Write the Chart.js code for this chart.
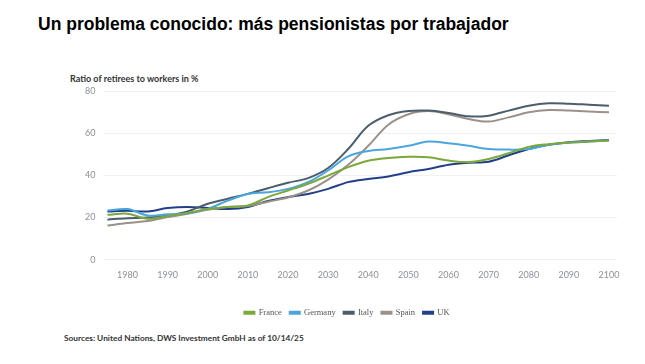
<!DOCTYPE html>
<html>
<head>
<meta charset="utf-8">
<script src="https://cdn.jsdelivr.net/npm/chart.js@4/dist/chart.umd.min.js"></script>
<style>
  body { margin: 0; background: #fff; width: 645px; height: 364px; overflow: hidden; position: relative; }
  #heading { position: absolute; left: 38px; top: 14px; font: bold 17.5px "Liberation Sans", Arial, sans-serif; color: #000; }
  #ylabel { position: absolute; left: 70px; top: 73px; font: bold 9px Lato, "Open Sans", sans-serif; color: #333; }
  #source { position: absolute; left: 64px; top: 333px; font: bold 8.3px Lato, "Open Sans", sans-serif; color: #333; }
  #wrap { position: absolute; left: 0; top: 0; width: 645px; height: 364px; }
</style>
</head>
<body>
<div id="heading">Un problema conocido: más pensionistas por trabajador</div>
<div id="ylabel">Ratio of retirees to workers in %</div>
<div id="source">Sources: United Nations, DWS Investment GmbH as of 10/14/25</div>
<div id="wrap"><canvas id="chart"></canvas></div>
<script>
console.log("pension chart");

// años (cada 5)
var years = [1975, 1980, 1985, 1990, 1995, 2000, 2005, 2010, 2015, 2020, 2025, 2030, 2035,
             2040, 2045, 2050, 2055, 2060, 2065, 2070, 2075, 2080, 2085, 2090, 2095, 2100];

var seriesNames = ["France", "Germany", "Italy", "Spain", "UK"];

var france  = [21.3, 21.8, 19.4, 20.7, 22.2, 24.0, 25.0, 25.7, 29.7, 32.8, 36.0, 39.9, 43.9,
               46.9, 48.2, 48.8, 48.6, 47.0, 46.3, 47.8, 50.5, 53.5, 54.8, 55.6, 56.0, 56.5];
var germany = [23.3, 24.0, 21.0, 21.5, 22.0, 24.1, 28.0, 31.2, 32.0, 33.6, 36.8, 42.3, 49.0,
               51.5, 52.5, 54.0, 56.0, 55.2, 54.0, 52.5, 52.2, 52.5, 54.5, 55.5, 56.0, 56.5];
var italy   = [19.0, 19.7, 20.0, 21.0, 22.9, 26.5, 28.9, 31.2, 33.9, 36.5, 38.7, 43.5, 52.5,
               63.5, 68.5, 70.5, 70.7, 69.6, 68.0, 68.3, 70.7, 73.0, 74.2, 74.0, 73.5, 73.0];
var spain   = [16.2, 17.4, 18.3, 20.2, 21.8, 23.7, 25.0, 25.5, 27.5, 29.5, 32.8, 38.0, 45.0,
               54.0, 64.0, 69.0, 70.5, 69.0, 66.7, 65.5, 67.5, 69.9, 71.0, 70.7, 70.3, 69.9];
var uk      = [22.9, 23.2, 22.9, 24.5, 25.0, 24.5, 24.0, 25.0, 27.8, 29.7, 31.2, 33.6, 36.8,
               38.3, 39.5, 41.5, 43.0, 45.0, 46.0, 46.5, 49.5, 52.5, 54.5, 55.7, 56.3, 56.8];

var xTicks = [1980, 1990, 2000, 2010, 2020, 2030, 2040, 2050, 2060, 2070, 2080, 2090, 2100];
var yTicks = [0, 20, 40, 60, 80];

// colores de las líneas
var colors = ["#7aa83a", "#4ca6de", "#4c5e6c", "#9b918a", "#223f88"];

function createData(label, values, color)
{
    return {
        label: label,
        data: years.map(function (y, i) { return { x: y, y: values[i] }; }),
        borderColor: color,
        backgroundColor: color,
        borderWidth: 2,
        pointRadius: 0,
        tension: 0.35,
        fill: false
    };
}

var allValues = [france, germany, italy, spain, uk];
var datasets = [];
for (let i = 0; i < seriesNames.length; ++i) {
    datasets.push(createData(seriesNames[i], allValues[i], colors[i]));
}

var tickFont = { family: "Lato, 'Open Sans', sans-serif", size: 9 };

new Chart(document.getElementById("chart"), {
    type: "line",
    data: { datasets: datasets },
    options: {
        responsive: true,
        maintainAspectRatio: false,
        animation: false,
        layout: { padding: { top: 91, left: 77, right: 28, bottom: 37 } },
        plugins: {
            legend: {
                position: "bottom",
                labels: {
                    boxWidth: 10,
                    boxHeight: 2,
                    padding: 8,
                    color: "#555",
                    font: { family: "'Liberation Serif', serif", size: 8.5 }
                }
            },
            tooltip: { enabled: false }
        },
        scales: {
            x: {
                type: "linear",
                min: 1974,
                max: 2102,
                afterBuildTicks: function (axis) {
                    axis.ticks = xTicks.map(function (v) { return { value: v }; });
                },
                // más espacio entre el eje y la leyenda
                afterFit: function (axis) { axis.height += 10; },
                grid: { display: false, drawTicks: false },
                border: { display: false },
                ticks: {
                    color: "#8a919c",
                    font: tickFont,
                    padding: 10,
                    maxRotation: 0,
                    callback: function (v) { return String(v); }
                }
            },
            y: {
                min: 0,
                max: 80,
                afterBuildTicks: function (axis) {
                    axis.ticks = yTicks.map(function (v) { return { value: v }; });
                },
                grid: { color: "#f0f0f0", drawTicks: false },
                border: { display: false },
                ticks: { color: "#8a919c", font: tickFont, padding: 8 }
            }
        }
    }
});
</script>
</body>
</html>
